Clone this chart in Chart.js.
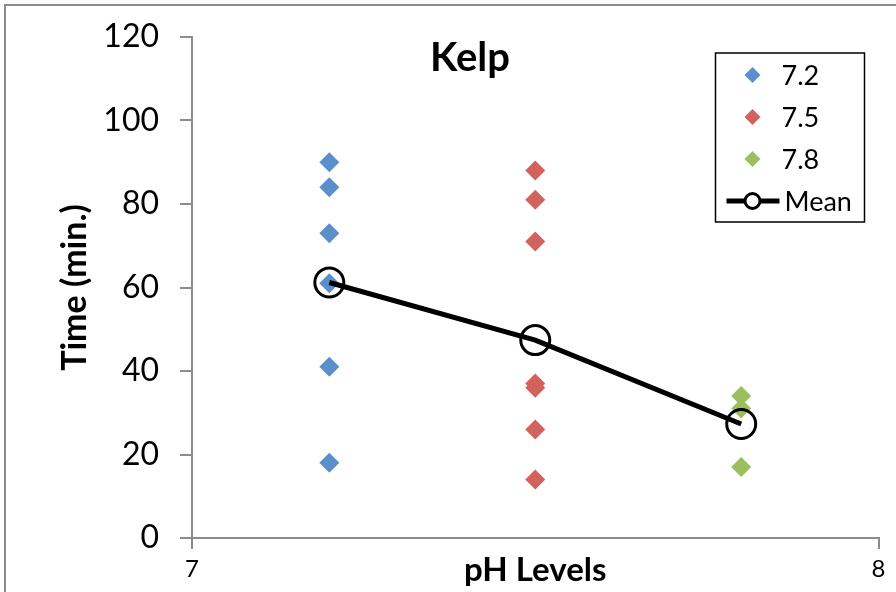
<!DOCTYPE html>
<html>
<head>
<meta charset="utf-8">
<script src="https://cdn.jsdelivr.net/npm/chart.js@4"></script>
<style>
  body { margin: 0; background: #fff; overflow: hidden; }
  #wrap { position: relative; width: 896px; height: 592px; }
  #frame { position: absolute; left: 4px; top: 4px; width: 1000px; height: 1000px; border: 2px solid #8c8c8c; }
  canvas { position: absolute; left: 0; top: 0; }
</style>
</head>
<body>
<div id="wrap">
  <div id="frame"></div>
  <canvas id="kelp" width="896" height="592"></canvas>
</div>
<script>
// pH groups and times
const phLevels = [7.2, 7.5, 7.8];
const seriesNames = ["7.2", "7.5", "7.8"];
const time72 = [90, 84, 73, 61, 41, 18];
const time75 = [88, 81, 71, 37, 36, 26, 14];
const time78 = [34, 31, 17];
const meanTime = [61.2, 47.4, 27.3];
const xRange = [7, 8];
const yRange = [0, 120];
const yStep = 20;

const colors = ["#5b8fcc", "#d2625d", "#9bc05b"];
const axisGray = "#8c8c8c";
const fontFam = "Lato, 'Open Sans', sans-serif";

function pts(x, ys) { return ys.map(y => ({x: x, y: y})); }

const groups = [time72, time75, time78];
const datasets = groups.map((g, i) => ({
  label: seriesNames[i],
  data: pts(phLevels[i], g),
  pointStyle: 'rectRot',
  pointRadius: 10,
  pointBorderWidth: 0,
  backgroundColor: colors[i],
  borderColor: colors[i],
  order: 1
}));
datasets.push({
  label: "Mean",
  data: phLevels.map((x, i) => ({x: x, y: meanTime[i]})),
  showLine: true,
  borderColor: "#000",
  borderWidth: 5,
  pointStyle: 'circle',
  pointRadius: 14.5,
  pointBorderWidth: 3,
  pointBorderColor: "#000",
  pointBackgroundColor: "rgba(0,0,0,0)",
  order: 0
});

// title "Kelp" and the boxed legend sit inside the plot area
const overlay = {
  id: 'overlay',
  afterDraw(chart) {
    const ctx = chart.ctx;
    const a = chart.chartArea;
    ctx.save();
    ctx.fillStyle = "#000";
    ctx.font = "bold 40px " + fontFam;
    ctx.textAlign = "center";
    ctx.textBaseline = "middle";
    ctx.fillText("Kelp", a.left + 0.405 * (a.right - a.left), a.top + 21);

    const bx = a.right - 163, by = a.top + 16, bw = 149, bh = 169;
    ctx.fillStyle = "#fff";
    ctx.fillRect(bx, by, bw, bh);
    ctx.strokeStyle = "#000";
    ctx.lineWidth = 1.5;
    ctx.strokeRect(bx, by, bw, bh);

    ctx.textAlign = "left";
    const mx = bx + 37;
    chart.data.datasets.forEach((ds, i) => {
      const cy = by + 22 + i * 42;
      if (ds.showLine) {
        ctx.strokeStyle = "#000";
        ctx.lineWidth = 5;
        ctx.beginPath();
        ctx.moveTo(mx - 26, cy);
        ctx.lineTo(mx + 27, cy);
        ctx.stroke();
        ctx.fillStyle = "#fff";
        ctx.lineWidth = 3;
        ctx.beginPath();
        ctx.arc(mx, cy, 7.5, 0, Math.PI * 2);
        ctx.fill();
        ctx.stroke();
        ctx.fillStyle = "#000";
        ctx.font = "27px " + fontFam;
        ctx.fillText(ds.label, mx + 32, cy + 1);
      } else {
        const r = 8;
        ctx.fillStyle = ds.backgroundColor;
        ctx.beginPath();
        ctx.moveTo(mx, cy - r);
        ctx.lineTo(mx + r, cy);
        ctx.lineTo(mx, cy + r);
        ctx.lineTo(mx - r, cy);
        ctx.closePath();
        ctx.fill();
        ctx.fillStyle = "#000";
        ctx.font = "27px " + fontFam;
        ctx.fillText(ds.label, mx + 29, cy + 1);
      }
    });
    ctx.restore();
  }
};

new Chart(document.getElementById("kelp"), {
  type: 'scatter',
  data: { datasets: datasets },
  options: {
    responsive: false,
    animation: false,
    layout: { padding: { top: 37, right: 17, left: 0, bottom: 0 } },
    plugins: { legend: { display: false }, tooltip: { enabled: false } },
    scales: {
      x: {
        type: 'linear',
        min: xRange[0],
        max: xRange[1],
        afterFit(s) { s.height = 54; },
        ticks: { stepSize: 1, color: "#000", padding: 6, font: { family: fontFam, size: 24 } },
        grid: { drawOnChartArea: false, drawTicks: true, tickLength: 11, color: axisGray, lineWidth: 2 },
        border: { color: axisGray, width: 2 },
        title: { display: true, text: "pH Levels", color: "#000", padding: { top: 0, bottom: 2 },
                 font: { family: fontFam, size: 33, weight: 'bold' } }
      },
      y: {
        min: yRange[0],
        max: yRange[1],
        afterFit(s) { s.width = 192; s.paddingTop = 0; s.paddingBottom = 0; },
        ticks: { stepSize: yStep, color: "#000", padding: 21, font: { family: fontFam, size: 32 } },
        grid: { drawOnChartArea: false, drawTicks: true, tickLength: 12, color: axisGray, lineWidth: 2 },
        border: { color: axisGray, width: 2 },
        title: { display: true, text: "Time (min.)", color: "#000", padding: { top: 55, bottom: 0 },
                 font: { family: fontFam, size: 34, weight: 'bold' } }
      }
    }
  },
  plugins: [overlay]
});
</script>
</body>
</html>
